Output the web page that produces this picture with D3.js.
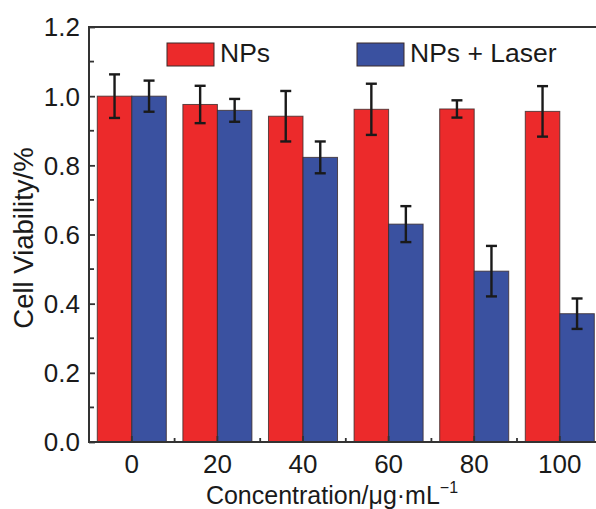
<!DOCTYPE html>
<html>
<head>
<meta charset="utf-8">
<script src="https://cdn.jsdelivr.net/npm/d3@7"></script>
<style>
  body { margin: 0; background: #fff; }
  svg { display: block; }
  text { font-family: "Liberation Sans", Arial, sans-serif; fill: #1a1a1a; }
</style>
</head>
<body>
<svg class="chart"></svg>
<script>
// cell viability bar chart with error bars
const concentrations = ["0", "20", "40", "60", "80", "100"];
const seriesNames = ["NPs", "NPs + Laser"];
const npsValues = [1.0, 0.976, 0.942, 0.962, 0.963, 0.956];
const npsErrors = [0.063, 0.054, 0.073, 0.074, 0.025, 0.073];
const laserValues = [1.0, 0.959, 0.823, 0.630, 0.494, 0.371];
const laserErrors = [0.045, 0.033, 0.046, 0.052, 0.073, 0.044];
const yTicks = [0, 0.2, 0.4, 0.6, 0.8, 1.0, 1.2];

const size = { w: 596, h: 509 };
const margin = { t: 27, l: 89, b: 67 };
const step = 85.6;
const colors = ["#ec2a2b", "#3a51a0"];

const svg = d3.select("svg.chart").attr("width", size.w).attr("height", size.h);
const g = svg.append("g");

const xScale = d3
  .scaleBand()
  .domain(concentrations)
  .range([margin.l, margin.l + step * concentrations.length])
  .padding(0);

const xInner = d3
  .scaleBand()
  .domain(seriesNames)
  .range([0, xScale.bandwidth()])
  .paddingInner(0)
  .paddingOuter(0.24);

const yScale = d3
  .scaleLinear()
  .domain([0, 1.2])
  .range([size.h - margin.b, margin.t]);

const data = concentrations.map((c, i) => ({
  c: c,
  vals: [
    { s: seriesNames[0], v: npsValues[i], e: npsErrors[i] },
    { s: seriesNames[1], v: laserValues[i], e: laserErrors[i] },
  ],
}));

// bars
const groups = g
  .selectAll("g.grp")
  .data(data)
  .join("g")
  .attr("class", "grp")
  .attr("transform", (d) => `translate(${xScale(d.c)},0)`);

groups
  .selectAll("rect")
  .data((d) => d.vals)
  .join("rect")
  .attr("x", (d) => xInner(d.s))
  .attr("y", (d) => yScale(d.v))
  .attr("width", xInner.bandwidth())
  .attr("height", (d) => yScale(0) - yScale(d.v))
  .attr("fill", (d, i) => colors[i])
  .attr("stroke", "#3a2a2a")
  .attr("stroke-opacity", 0.8)
  .attr("stroke-width", 1);

// error bars
const capW = 11;
const errG = groups
  .selectAll("g.err")
  .data((d) => d.vals)
  .join("g")
  .attr("class", "err")
  .attr("stroke", "#1a1a1a")
  .attr("stroke-width", 2.4);

errG
  .append("line")
  .attr("x1", (d) => xInner(d.s) + xInner.bandwidth() / 2)
  .attr("x2", (d) => xInner(d.s) + xInner.bandwidth() / 2)
  .attr("y1", (d) => yScale(d.v + d.e))
  .attr("y2", (d) => yScale(d.v - d.e));

[1, -1].forEach((sign) => {
  errG
    .append("line")
    .attr("x1", (d) => xInner(d.s) + xInner.bandwidth() / 2 - capW / 2)
    .attr("x2", (d) => xInner(d.s) + xInner.bandwidth() / 2 + capW / 2)
    .attr("y1", (d) => yScale(d.v + sign * d.e))
    .attr("y2", (d) => yScale(d.v + sign * d.e));
});

// y axis with inward ticks
const yAxis = g
  .append("g")
  .attr("class", "axis")
  .attr("transform", `translate(${margin.l},0)`)
  .call(d3.axisRight(yScale).tickValues(yTicks).tickSize(6).tickFormat(""));
yAxis.select(".domain").remove();

const yMinor = d3.range(0.1, 1.2, 0.2);
g.selectAll("line.yminor")
  .data(yMinor)
  .join("line")
  .attr("class", "yminor")
  .attr("x1", margin.l)
  .attr("x2", margin.l + 5)
  .attr("y1", (d) => yScale(d))
  .attr("y2", (d) => yScale(d));

g.selectAll("text.ylab")
  .data(yTicks)
  .join("text")
  .attr("class", "ylab")
  .attr("x", margin.l - 9)
  .attr("y", (d) => yScale(d))
  .attr("dy", "0.36em")
  .attr("text-anchor", "end")
  .attr("font-size", 26)
  .text((d) => d.toFixed(1));

// x axis with inward ticks
const xAxis = g
  .append("g")
  .attr("class", "axis")
  .attr("transform", `translate(0,${yScale(0)})`)
  .call(d3.axisTop(xScale).tickSize(6).tickFormat(""));
xAxis.select(".domain").remove();

g.selectAll("line.xminor")
  .data(concentrations.slice(1))
  .join("line")
  .attr("class", "xminor")
  .attr("x1", (d) => xScale(d))
  .attr("x2", (d) => xScale(d))
  .attr("y1", yScale(0))
  .attr("y2", yScale(0) - 4);

g.selectAll("text.xlab")
  .data(concentrations)
  .join("text")
  .attr("class", "xlab")
  .attr("x", (d) => xScale(d) + xScale.bandwidth() / 2)
  .attr("y", yScale(0) + 31)
  .attr("text-anchor", "middle")
  .attr("font-size", 26)
  .text((d) => d);

g.selectAll(".axis line, line.yminor, line.xminor")
  .attr("stroke", "#333")
  .attr("stroke-width", 1.8);

// frame
const right = margin.l + step * concentrations.length;
g.append("path")
  .attr("d", `M${right},${yScale(1.2)}H${margin.l}V${yScale(0)}H${right}`)
  .attr("fill", "none")
  .attr("stroke", "#333")
  .attr("stroke-width", 2);

// axis titles
const xTitle = g
  .append("text")
  .attr("x", 332)
  .attr("y", 504)
  .attr("text-anchor", "middle")
  .attr("font-size", 25);
xTitle.append("tspan").text("Concentration/\u03bcg\u00b7mL");
xTitle.append("tspan").attr("dy", -11).attr("font-size", 16).text("\u22121");

g.append("text")
  .attr("transform", "translate(33,238) rotate(-90)")
  .attr("text-anchor", "middle")
  .attr("font-size", 27.5)
  .text("Cell Viability/%");

// legend
const legendX = [167, 357];
const legend = g
  .selectAll("g.legend")
  .data(seriesNames)
  .join("g")
  .attr("class", "legend")
  .attr("transform", (d, i) => `translate(${legendX[i]},43)`);

legend
  .append("rect")
  .attr("width", 47)
  .attr("height", 23)
  .attr("fill", (d, i) => colors[i])
  .attr("stroke", "#3a2a2a")
  .attr("stroke-width", 1);

legend
  .append("text")
  .attr("x", 53)
  .attr("y", 19)
  .attr("font-size", 26.5)
  .text((d) => d);
</script>
</body>
</html>
